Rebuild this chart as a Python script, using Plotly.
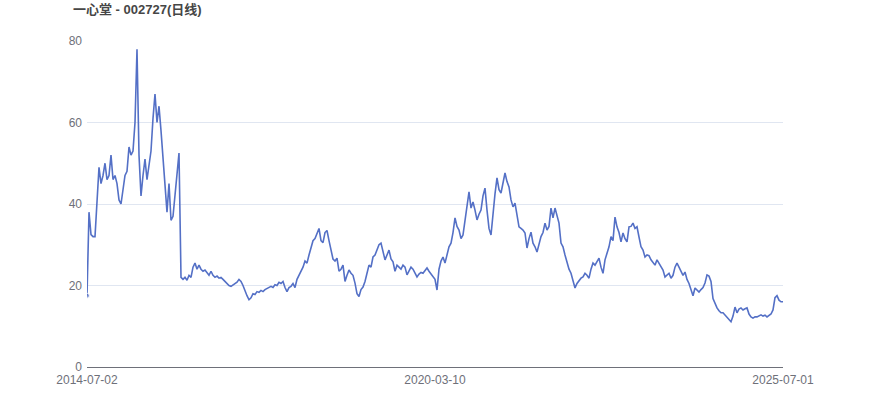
import pandas as pd
import plotly.graph_objects as go

title_text = "一心堂 - 002727(日线)"
first_date = "2014-07-02"
mid_date = "2020-03-10"
last_date = "2025-07-01"
tick_labels = [first_date, mid_date, last_date]
y_ticks = [0, 20, 40, 60, 80]

close_values = [
    17.5, 38, 32.5, 32, 32, 41, 49, 45, 47, 50,
    46, 47, 52, 46, 47, 45, 41, 40, 44, 47,
    48, 54, 52, 53, 60, 78, 52, 42, 47, 51,
    46, 50, 53, 61, 67, 60, 64, 58, 52, 46,
    38, 45, 36, 37, 42, 46, 52.5, 22, 21.5, 22,
    21.3, 22.5, 22, 24.5, 25.5, 24, 25, 24, 23.5, 23.8,
    23, 22.5, 23.5, 22.5, 22, 22.3, 21.8, 22, 21.5, 21,
    20.5, 20, 19.8, 20.2, 20.5, 20.8, 21.5, 21, 20, 18.5,
    17.5, 16.5, 17, 18, 17.8, 18.5, 18.3, 18.8, 18.5, 19,
    19.3, 19.5, 19.8, 19.5, 20.2, 20, 20.8, 20.5, 21, 19.5,
    18.5, 19.5, 19.8, 20.5, 19.5, 21.5, 22.5, 23.5, 24.5, 26,
    25.5, 27.5, 29, 31, 31.5, 33, 34, 31, 30.5, 33,
    33.5, 31, 28.5, 26.5, 26, 26.7, 23.5, 24, 25, 21,
    22.5, 23.8, 23, 22.5, 20.6, 18, 17.3, 19, 19.6, 21,
    23, 25, 24.5, 27, 27.5, 28.7, 30, 30.4, 28.5, 26.3,
    27.5, 28.7, 26.5, 25.8, 23.5, 25, 24.5, 24, 25, 24.5,
    22.6, 23.5, 24.5, 24, 23, 22.1, 22.8, 23.2, 23, 23.8,
    24.3, 23.5, 22.8, 22.2, 21.5, 18.9, 24, 26, 27, 25.5,
    27.5, 29.5, 30.4, 33, 36.6, 34.5, 33.6, 31.5, 32.4, 36.1,
    40, 43, 39, 40.5, 38.5, 36.1, 37.5, 38.5, 42, 43.9,
    38.5, 34, 32.4, 38.5, 42.5, 46.4, 43.5, 42.7, 45.2, 47.6,
    45.5, 44.2, 41, 39.3, 40.2, 37, 34.4, 34, 33.6, 32.9,
    29.2, 31.5, 33.1, 30.4, 29.5, 28.2, 30.5, 32, 33, 35.3,
    33.6, 34.5, 39, 36.6, 39, 37, 35.3, 30.4, 29.5, 27.5,
    25.5, 24, 23, 20.9, 19.4, 20.5, 21.3, 21.8, 22.1, 23,
    22.5, 21.8, 24, 25.5, 25, 26, 26.7, 24.5, 23, 26.3,
    28, 29.5, 32, 31, 36.8, 34.4, 33, 30.7, 32.9, 31.5,
    30.7, 34.4, 34.5, 35.3, 34, 34.4, 31.9, 29.5, 28.7, 27,
    27.5, 27.3, 26.3, 25.5, 25, 26.3, 25.5, 24.5, 23.8, 22.1,
    22.5, 23, 21.8, 22.5, 24.5, 25.5, 24.5, 23.3, 22.5, 23.3,
    21.5, 20.5, 19, 17.5, 19.4, 18.8, 18.4, 19, 19.5, 20.6,
    22.6, 22.3, 21, 16.8, 15.5, 14.5, 13.8, 13.3, 13.3, 12.8,
    12.3, 11.6, 11.1, 12.5, 14.7, 13.3, 14.2, 14.5, 14, 14.3,
    14.5, 13, 12.3, 12, 12.3, 12.3, 12.6, 12.8, 12.5, 12.7,
    12.3, 12.6, 13, 14, 17, 17.5, 16.4, 16, 16,
]

# trading-day category labels: first half up to the middle label, second half after it
n = len(close_values)
half = n // 2
d1 = pd.date_range(first_date, mid_date, periods=half + 1)
d2 = pd.date_range(mid_date, last_date, periods=n - half)
dates = [d.strftime("%Y-%m-%d") for d in list(d1) + list(d2)[1:]]

marker_sizes = [5] + [0] * (n - 1)

fig = go.Figure()
fig.add_trace(go.Scatter(
    x=dates, y=close_values, mode="lines+markers",
    line=dict(color="#5470c6", width=1.6),
    marker=dict(size=marker_sizes, color="#5470c6"),
    name="收盘价",
))

fig.update_layout(
    width=870, height=417,
    margin=dict(l=87, r=87, t=41, b=50),
    plot_bgcolor="white", paper_bgcolor="white",
    showlegend=False,
    font=dict(family="Liberation Sans, Noto Sans CJK SC, sans-serif", color="#6E7079", size=12),
    title=dict(
        text="<b>" + title_text + "</b>",
        x=73 / 870, xanchor="left", y=1 - 9 / 417, yanchor="middle",
        font=dict(size=13, color="#464646", family="Liberation Sans, Noto Sans CJK SC, sans-serif"),
    ),
    xaxis=dict(
        type="category",
        tickmode="array", tickvals=tick_labels, ticktext=tick_labels,
        showgrid=False, showline=True, linecolor="#6E7079", linewidth=1,
        ticks="", tickangle=0, zeroline=False,
        tickfont=dict(size=12, color="#6E7079"),
        ticklabelstandoff=2,
        range=[0, n - 1],
    ),
    yaxis=dict(
        range=[0, 80], tickvals=y_ticks,
        showgrid=True, gridcolor="#E0E6F1", gridwidth=1,
        zeroline=False, showline=False, ticks="",
        tickfont=dict(size=12, color="#6E7079"),
        ticklabelstandoff=4,
    ),
)

fig.write_html(
    "out.html",
    config={"displayModeBar": False},
    post_script="document.body.style.margin='0';document.body.style.overflow='hidden';",
)
